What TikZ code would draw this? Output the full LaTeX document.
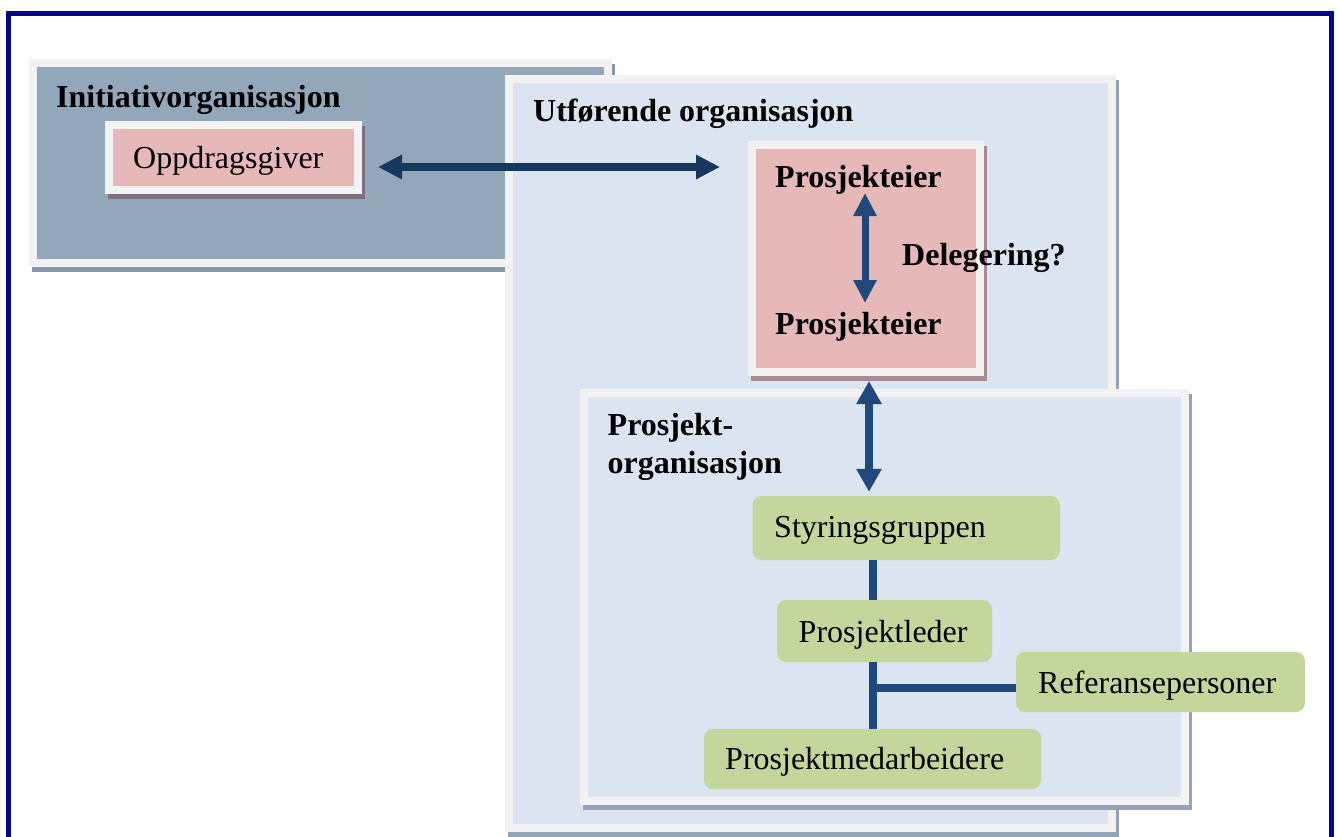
\documentclass[tikz,border=0pt]{standalone}
\usepackage{fontspec}
\setmainfont{Liberation Serif}
\usetikzlibrary{arrows.meta}
\definecolor{frameblue}{RGB}{6,6,140}
\definecolor{lightframe}{RGB}{242,242,242}
\definecolor{initfill}{RGB}{146,168,186}
\definecolor{initshadow}{RGB}{136,152,172}
\definecolor{bluefill}{RGB}{219,229,241}
\definecolor{blueshadow}{RGB}{149,163,184}
\definecolor{pinkfill}{RGB}{230,185,184}
\definecolor{pinkshadow}{RGB}{166,139,147}
\definecolor{oppshadow}{RGB}{128,112,124}
\definecolor{greenfill}{RGB}{195,214,155}
\definecolor{darkarrow}{RGB}{23,55,94}
\definecolor{arrowblue}{RGB}{31,73,125}
\tikzset{
  framebox/.style 2 args={rectangle, draw=lightframe, line width=8pt, fill=#1, inner sep=0pt,
    preaction={draw=#2, fill=#2, line width=8pt, transform canvas={shift={(3pt,-5pt)}}}},
  greenbox/.style={rectangle, rounded corners=9pt, fill=greenfill, inner sep=0pt},
  txt/.style={anchor=base west, inner sep=0pt, font=\fontsize{32pt}{38pt}\selectfont},
  btxt/.style={txt, font=\fontsize{32pt}{38pt}\selectfont\bfseries},
  bigarrow/.style={line width=8pt, draw=arrowblue,
    {Triangle[width=24pt,length=23pt]}-{Triangle[width=24pt,length=23pt]}},
  connector/.style={line width=8pt, draw=arrowblue}
}
\begin{document}
\begin{tikzpicture}[x=1pt,y=-1pt]
\useasboundingbox (0,0) rectangle (1337,836);
\fill[white] (0,0) rectangle (1337,836);
% outer frame
\draw[line width=5pt, frameblue] (8,850) -- (8,13) -- (1331,13) -- (1331,850);

% Initiativorganisasjon
\node[framebox={initfill}{initshadow}, minimum width=575pt, minimum height=200pt] (init) at (320.5,163) {};
\node[framebox={pinkfill}{oppshadow}, minimum width=249pt, minimum height=65pt] (opp) at (233.5,157.5) {};
\node[btxt] (initT) at (56,107) {Initiativorganisasjon};
\node[txt] (oppT) at (133,168) {Oppdragsgiver};

% Utfoerende organisasjon
\node[framebox={bluefill}{blueshadow}, minimum width=603pt, minimum height=749pt] (utf) at (810.5,453.5) {};
\node[btxt] (utfT) at (533,121) {Utførende organisasjon};

% horizontal arrow
\coordinate (hl) at (378,167);
\coordinate (hr) at (720,167);
\draw[bigarrow, draw=darkarrow, {Triangle[width=23pt,length=24pt]}-{Triangle[width=23pt,length=24pt]}] (hl) -- (hr);

% Prosjekteier box
\node[framebox={pinkfill}{pinkshadow}, minimum width=228pt, minimum height=227pt] (pink) at (866,258.5) {};
\node[btxt] (pe1) at (775,187) {Prosjekteier};
\node[btxt] (pe2) at (775,334) {Prosjekteier};
\coordinate (dt) at (865,193);
\coordinate (db) at (865,303);
\draw[bigarrow, line width=7pt, {Triangle[width=22pt,length=23pt]}-{Triangle[width=22pt,length=23pt]}] (dt) -- (db);
\node[btxt] (deleg) at (902,265) {Delegering?};

% Prosjektorganisasjon
\node[framebox={bluefill}{blueshadow}, minimum width=601pt, minimum height=408pt] (porg) at (884.5,597) {};
\node[btxt] (porgT1) at (607.5,435) {Prosjekt-};
\node[btxt] (porgT2) at (607.5,473) {organisasjon};

% green boxes
\node[greenbox, minimum width=307.5pt, minimum height=64pt] (sty) at (906.25,528) {};
\node[greenbox, minimum width=215pt, minimum height=62pt] (pl) at (884.5,631) {};
\node[greenbox, minimum width=289pt, minimum height=60pt] (ref) at (1160.5,682) {};
\node[greenbox, minimum width=337pt, minimum height=60pt] (pm) at (872.5,759) {};
\node[txt] (styT) at (774,537) {Styringsgruppen};
\node[txt] (plT) at (798.5,642) {Prosjektleder};
\node[txt] (refT) at (1038,693) {Referansepersoner};
\node[txt] (pmT) at (725,769) {Prosjektmedarbeidere};

% vertical arrow pink -> Styringsgruppen
\coordinate (pa) at ([xshift=3pt,yshift=-5pt]pink.south);
\draw[bigarrow, shorten >=4pt] (pa) -- (pa |- sty.north);

% trunk connectors
\coordinate (trunk) at (872.5,0);
\coordinate (rb) at ([yshift=-6pt]ref.west);
\draw[connector] (sty.south -| trunk) -- (pl.north -| trunk);
\draw[connector] (pl.south -| trunk) -- (pm.north -| trunk);
\draw[connector] (rb) -- (rb -| trunk);
\end{tikzpicture}
\end{document}
